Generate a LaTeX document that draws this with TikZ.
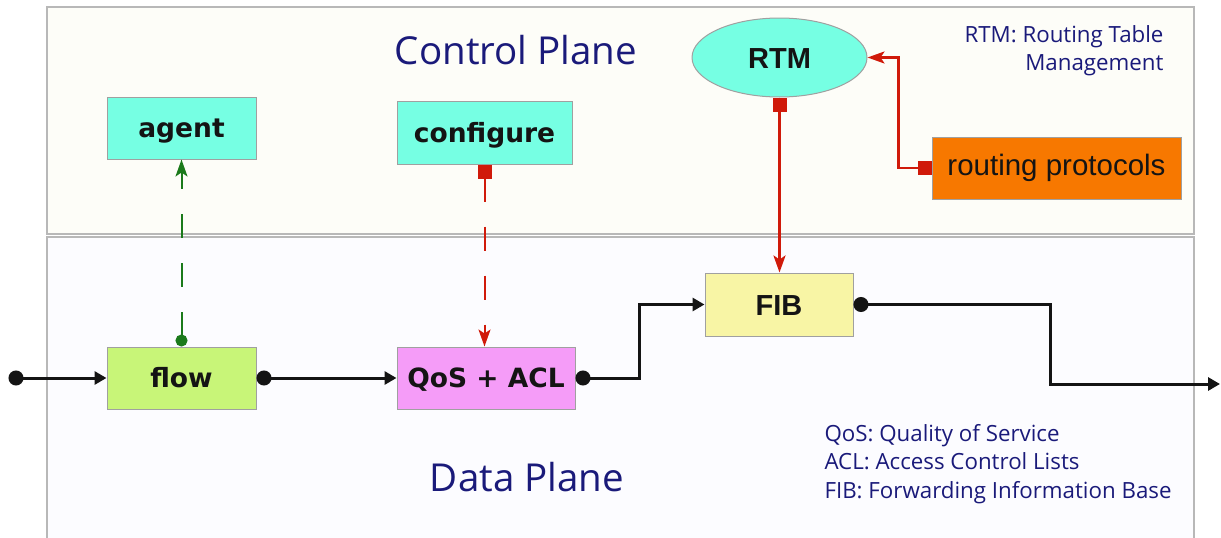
\documentclass[tikz,border=0pt]{standalone}
\usepackage{fontspec}
\setmainfont{Open Sans}
\newfontfamily\boxfont{DejaVu Sans}
\newfontfamily\arialfont{Liberation Sans}
\usetikzlibrary{arrows.meta,shapes.geometric}

\definecolor{navytext}{RGB}{26,26,122}
\definecolor{aquafill}{RGB}{118,255,227}
\definecolor{flowfill}{RGB}{200,245,120}
\definecolor{qosfill}{RGB}{245,156,248}
\definecolor{fibfill}{RGB}{248,245,165}
\definecolor{orangefill}{RGB}{247,120,0}
\definecolor{redline}{RGB}{208,26,10}
\definecolor{greenline}{RGB}{27,122,27}
\definecolor{planeborder}{RGB}{184,184,184}
\definecolor{boxborder}{RGB}{160,160,160}
\definecolor{ctrlfill}{RGB}{253,253,248}
\definecolor{datafill}{RGB}{252,252,255}
\definecolor{inktext}{RGB}{20,20,20}

\begin{document}
\begin{tikzpicture}[x=1pt,y=-1pt,
  blockbox/.style={draw=boxborder,line width=1pt,inner sep=0pt,text=inktext,
    text height=19pt,text depth=0pt,
    font=\boxfont\bfseries\fontsize{26.5}{30}\selectfont},
  arialbold/.style={font=\arialfont\bfseries\fontsize{29}{34}\selectfont,
    text height=21pt,text depth=0pt},
  planelabel/.style={text=navytext,font=\fontsize{38.5}{44}\selectfont},
  notelabel/.style={text=navytext,font=\fontsize{22.3}{28.5}\selectfont},
  dataline/.style={draw=black!92,line width=3pt,
    {Circle[length=15pt]}-{Triangle[length=12pt,width=13pt]}},
  ctrlline/.style={draw=redline,line width=2.5pt,
    {Square[length=14pt,width=14pt]}-{Stealth[length=17pt,width=12pt,inset=4pt]}},
  longdash/.style={dash pattern=on 24pt off 25pt}]

\useasboundingbox (0,0) rectangle (1221,538);
\fill[white] (0,0) rectangle (1221,538);

% the two planes
\filldraw[fill=ctrlfill,draw=planeborder,line width=1.5pt] (47,7) rectangle (1194,234);
\fill[datafill] (47,237) rectangle (1194,538);
\draw[planeborder,line width=1.5pt] (47,540) -- (47,237) -- (1194,237) -- (1194,540);

\node[planelabel] (ctrltitle) at (516,50) {Control Plane};
\node[planelabel] (datatitle) at (527,477) {Data Plane};

\node[notelabel,align=right,anchor=north east] (rtmnote) at (1167,22)
  {RTM: Routing Table\\Management};
\node[notelabel,align=left,anchor=west] (legend) at (821,464)
  {QoS: Quality of Service\\ACL: Access Control Lists\\FIB: Forwarding Information Base};

% control plane blocks
\node[blockbox,fill=aquafill,minimum width=149pt,minimum height=62pt] (agent) at (181.5,128) {agent};
\node[blockbox,fill=aquafill,minimum width=175pt,minimum height=63pt] (configure) at (484.5,132.5) {configure};
\node[blockbox,ellipse,fill=aquafill,minimum width=175pt,minimum height=79pt,arialbold] (rtm) at (779.5,57.5) {RTM};
\node[draw=boxborder,line width=1pt,inner sep=0pt,fill=orangefill,text=inktext,
  minimum width=249pt,minimum height=62pt,
  font=\arialfont\fontsize{29.5}{34}\selectfont] (routing) at (1056.5,168) {routing protocols};

% data plane blocks
\node[blockbox,fill=flowfill,minimum width=149pt,minimum height=62pt] (flow) at (181.5,378) {flow};
\node[blockbox,fill=qosfill,minimum width=178pt,minimum height=62pt] (qos) at (486,378) {QoS + ACL};
\node[blockbox,fill=fibfill,minimum width=148pt,minimum height=63pt,arialbold] (fib) at (779,304.5) {FIB};

% packet path
\coordinate (pktin) at (8.5,378);
\coordinate (pktout) at (1220,384);
\draw[dataline] (pktin) -- (flow.west);
\draw[dataline] (flow.east) -- (qos.west);
\draw[dataline] (qos.east) -- ++(64,0) |- (fib.west);
\draw[dataline] (fib.east) -- ++(197,0) |- (pktout);

% control interactions
\draw[draw=greenline,line width=2pt,longdash,
  {Circle[length=12pt]}-{Stealth[length=17pt,width=12pt,inset=4pt]}]
  (flow.north) -- (agent.south);
\draw[ctrlline,line width=2pt,longdash] (configure.south) -- (configure.south |- qos.north);
\draw[ctrlline] (rtm.south) -- (rtm.south |- fib.north);
\draw[ctrlline] (routing.west) -- ++(-33,0) |- (rtm.east);

\end{tikzpicture}
\end{document}
